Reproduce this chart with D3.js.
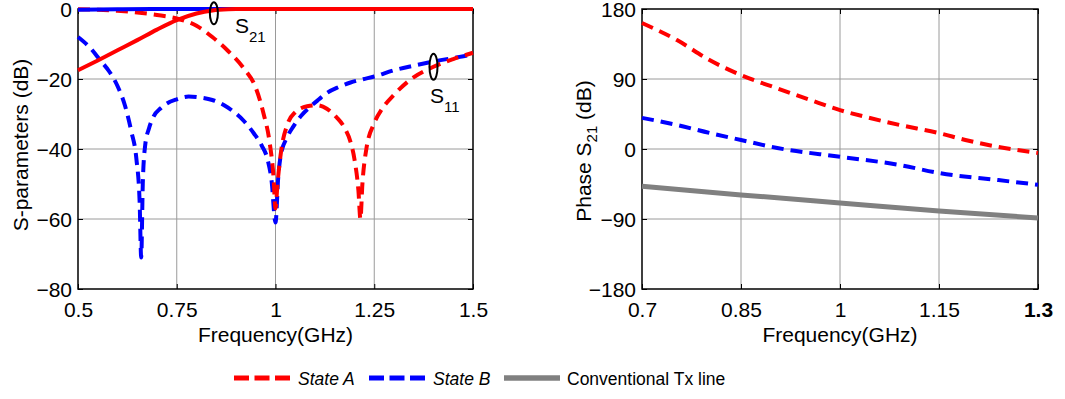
<!DOCTYPE html>
<meta charset="utf-8">
<style>
body { margin: 0; background: #fff; }
svg text { font-family: "Liberation Sans", Arial, Helvetica, sans-serif; fill: #000; }
.tick text { font-size: 21px; }
.title { font-size: 21px; }
.legend text { font-size: 17.5px; }
.grid line { stroke: #9a9a9a; stroke-width: 1; }
</style>
<body>
<svg width="1065" height="399"></svg>
<script src="https://d3js.org/d3.v7.min.js"></script>
<script>

// ---- data: left panel, S-parameters (dB) vs frequency (GHz)
var s11A = [[0.5,-0.05],[0.55,-0.2],[0.6,-0.5],[0.65,-1.0],[0.7,-1.7],[0.75,-2.7],[0.8,-4.8],[0.84,-8],
  [0.88,-12],[0.92,-17],[0.95,-22.5],[0.97,-30],[0.985,-38],[0.995,-48],[1.0,-57],[1.005,-50],[1.015,-40],
  [1.03,-33],[1.05,-29.5],[1.08,-27.8],[1.105,-27.5],[1.13,-28.5],[1.155,-31],[1.175,-34],[1.19,-38],
  [1.2,-43],[1.21,-52],[1.215,-60],[1.22,-50],[1.23,-40],[1.25,-32.6],[1.27,-28.5],[1.3,-24.5],
  [1.34,-20.3],[1.4,-16.5],[1.45,-14.3],[1.5,-12.5]];
var s11B = [[0.5,-8],[0.53,-11],[0.556,-14.6],[0.58,-18],[0.6,-22],[0.62,-28],[0.635,-35],[0.648,-43],
  [0.656,-55],[0.66,-71],[0.664,-50],[0.67,-39],[0.68,-34],[0.69,-31],[0.71,-28.3],[0.725,-27],[0.75,-25.8],
  [0.78,-25],[0.81,-25.3],[0.84,-26],[0.87,-27.5],[0.89,-29],[0.92,-32],[0.945,-35.5],[0.965,-39],
  [0.98,-43],[0.99,-49],[1.0,-61],[1.007,-48],[1.013,-42],[1.03,-36.5],[1.045,-33.6],[1.065,-30.5],
  [1.087,-28],[1.11,-25.8],[1.13,-24],[1.16,-22.3],[1.19,-21],[1.22,-20.1],[1.25,-19.3],[1.3,-17.5],
  [1.35,-16.2],[1.4,-15],[1.45,-14],[1.5,-13]];
var s21A = [[0.5,-17.5],[0.55,-14.7],[0.6,-11.8],[0.65,-8.9],[0.7,-5.9],[0.75,-3.2],[0.8,-1.3],
  [0.84,-0.4],[0.88,-0.05],[0.9,0],[1.0,0],[1.5,0]];
var s21B = [[0.5,-0.2],[0.6,-0.1],[0.7,0],[1.0,0],[1.5,0]];

// ---- data: right panel, phase of S21 vs frequency (GHz)
var phaseA = [[0.7,162],[0.753,140],[0.803,114],[0.85,95],[0.905,78],[0.955,63],[1.0,50],[1.04,41],
  [1.09,31],[1.15,20.5],[1.19,11.6],[1.24,2.6],[1.3,-5]];
var phaseB = [[0.7,40],[0.753,30.9],[0.803,20.5],[0.85,11.6],[0.905,1.3],[1.0,-10],[1.09,-20.5],
  [1.15,-30.9],[1.24,-40],[1.3,-46]];
var phaseTx = [[0.7,-48],[0.85,-59],[1.0,-69.4],[1.15,-79.7],[1.3,-88.7]];

var leftXTicks = [0.5, 0.75, 1, 1.25, 1.5];
var leftYTicks = [-80, -60, -40, -20, 0];
var rightXTicks = [0.7, 0.85, 1, 1.15, 1.3];
var rightYTicks = [-180, -90, 0, 90, 180];

var legendItems = ["State A", "State B", "Conventional Tx line"];

var RED = "#ff0000", BLUE = "#0000ff", GRAY = "#808080";

var svg = d3.select("svg");

function panel(opt) {
  var x = d3.scaleLinear().domain(opt.xd).range(opt.xr);
  var y = d3.scaleLinear().domain(opt.yd).range([289, 9]);
  var g = svg.append("g");

  // grid
  var grid = g.append("g").attr("class", "grid");
  grid.selectAll(".gx").data(opt.xt.slice(1, -1)).enter().append("line")
    .attr("x1", d => x(d)).attr("x2", d => x(d)).attr("y1", 9).attr("y2", 289);
  grid.selectAll(".gy").data(opt.yt.slice(1, -1)).enter().append("line")
    .attr("y1", d => y(d)).attr("y2", d => y(d)).attr("x1", opt.xr[0]).attr("x2", opt.xr[1]);

  // axes with inward ticks
  var bx = g.append("g").attr("transform", "translate(0,289)")
    .call(d3.axisBottom(x).tickValues(opt.xt).tickSize(-5).tickPadding(13).tickFormat(d3.format("")));
  g.append("g").attr("transform", "translate(0,9)")
    .call(d3.axisTop(x).tickValues(opt.xt).tickSize(-5).tickFormat(""));
  var ly = g.append("g").attr("transform", "translate(" + opt.xr[0] + ",0)")
    .call(d3.axisLeft(y).tickValues(opt.yt).tickSize(-5).tickPadding(6));
  g.append("g").attr("transform", "translate(" + opt.xr[1] + ",0)")
    .call(d3.axisRight(y).tickValues(opt.yt).tickSize(-5).tickFormat(""));
  g.selectAll(".domain").remove();
  g.selectAll(".tick line").attr("stroke", "#000").attr("stroke-width", 1);
  g.selectAll(".tick text").attr("font-family", null).attr("font-size", null);
  ly.selectAll(".tick text").attr("dy", "0.36em");
  if (opt.boldLast) bx.selectAll(".tick text").filter(d => d === opt.xt[opt.xt.length - 1]).style("font-weight", "bold");

  // box
  g.append("rect").attr("x", opt.xr[0]).attr("y", 9)
    .attr("width", opt.xr[1] - opt.xr[0]).attr("height", 280)
    .attr("fill", "none").attr("stroke", "#000").attr("stroke-width", 1.5);

  var line = d3.line().x(d => x(d[0])).y(d => y(d[1])).curve(d3.curveMonotoneX);
  opt.series.forEach(function(s) {
    g.append("path").datum(s.data).attr("d", line)
      .attr("fill", "none").attr("stroke", s.color).attr("stroke-width", s.w || 4)
      .attr("stroke-dasharray", s.dash || null);
  });

  // x title
  g.append("text").attr("class", "title").attr("text-anchor", "middle")
    .attr("x", (opt.xr[0] + opt.xr[1]) / 2).attr("y", 342).text("Frequency(GHz)");
  return { x: x, y: y, g: g };
}

var left = panel({
  xd: [0.5, 1.5], xr: [78, 473], yd: [-80, 0], xt: leftXTicks, yt: leftYTicks,
  series: [
    { data: s11B, color: BLUE, dash: "12,7" },
    { data: s11A, color: RED, dash: "12,7" },
    { data: s21B, color: BLUE },
    { data: s21A, color: RED }
  ]
});

var right = panel({
  xd: [0.7, 1.3], xr: [642, 1038], yd: [-180, 180], xt: rightXTicks, yt: rightYTicks, boldLast: true,
  series: [
    { data: phaseTx, color: GRAY, w: 5 },
    { data: phaseB, color: BLUE, dash: "12,7" },
    { data: phaseA, color: RED, dash: "12,7" }
  ]
});

// y titles
svg.append("text").attr("class", "title").attr("text-anchor", "middle")
  .attr("transform", "translate(28,145) rotate(-90)").text("S-parameters (dB)");
var pt = svg.append("text").attr("class", "title").attr("text-anchor", "middle")
  .attr("transform", "translate(591,151) rotate(-90)");
pt.append("tspan").text("Phase S");
pt.append("tspan").attr("dy", 6).style("font-size", "15px").text("21");
pt.append("tspan").attr("dy", -6).text(" (dB)");

// annotations: ellipses and S21 / S11 labels
function note(cx, cy, ry, tx, ty, sub) {
  left.g.append("ellipse").attr("cx", cx).attr("cy", cy).attr("rx", 4).attr("ry", ry)
    .attr("fill", "none").attr("stroke", "#000").attr("stroke-width", 2);
  var t = left.g.append("text").attr("x", tx).attr("y", ty).style("font-size", "21px");
  t.append("tspan").text("S");
  t.append("tspan").attr("dy", 9).style("font-size", "15px").text(sub);
}
note(left.x(0.844), left.y(-1.2), 11, 235, 33, "21");
note(left.x(1.4), left.y(-16.5), 13, 430, 103, "11");

// legend
var leg = svg.append("g").attr("class", "legend");
var legX = [[234, 298], [369, 433], [504, 567]];
var legStyle = [{ c: RED, dash: "15,5.5", w: 5, it: true }, { c: BLUE, dash: "15,5.5", w: 5, it: true }, { c: GRAY, w: 5.5 }];
legendItems.forEach(function(name, i) {
  leg.append("line").attr("x1", legX[i][0]).attr("x2", legX[i][0] + 56).attr("y1", 378).attr("y2", 378)
    .attr("stroke", legStyle[i].c).attr("stroke-width", legStyle[i].w)
    .attr("stroke-dasharray", legStyle[i].dash || null);
  leg.append("text").attr("x", legX[i][1]).attr("y", 385)
    .style("font-style", legStyle[i].it ? "italic" : "normal").text(name);
});

</script>
